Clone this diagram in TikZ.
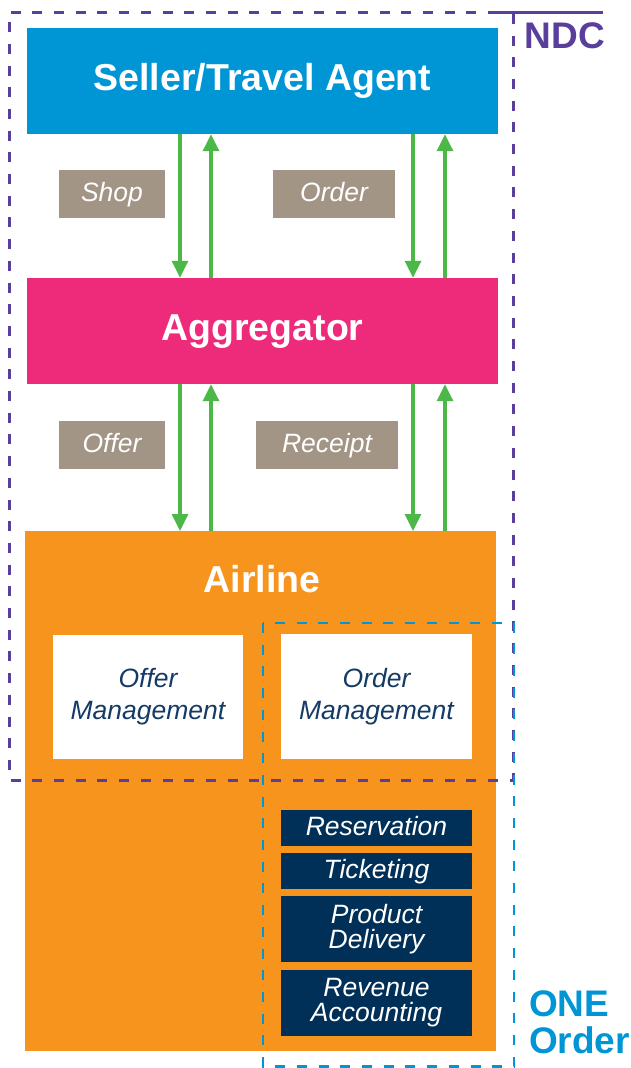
\documentclass[tikz,border=0pt]{standalone}
\usepackage{fontspec}
\setmainfont{Liberation Sans}
\usetikzlibrary{arrows.meta}

\definecolor{sellerblue}{HTML}{0096D6}
\definecolor{aggpink}{HTML}{EE2B7B}
\definecolor{airorange}{HTML}{F7941E}
\definecolor{msggrey}{HTML}{A39585}
\definecolor{deepnavy}{HTML}{003057}
\definecolor{mgmttext}{HTML}{143A66}
\definecolor{ndcpurple}{HTML}{5A3E9C}
\definecolor{orderblue}{HTML}{0095D5}
\definecolor{flowgreen}{HTML}{4CB848}

\tikzset{
  bigrow/.style={text height=27.4pt, text depth=7.9pt},
  onerow/.style={text height=19.3pt, text depth=3.6pt},
  party/.style={draw=none, inner sep=0pt, minimum width=471pt, minimum height=106pt,
    text=white, bigrow, font=\fontsize{37.5}{45}\selectfont\bfseries},
  msg/.style={fill=msggrey, inner sep=0pt, minimum height=48pt, onerow,
    text=white, font=\fontsize{26.5}{32}\selectfont\itshape},
  mgmt/.style={fill=white, inner sep=0pt, minimum width=190pt, minimum height=124pt,
    align=center, text=mgmttext, font=\fontsize{26.5}{32}\selectfont\itshape},
  proc/.style={fill=deepnavy, inner sep=0pt, minimum width=191pt,
    align=center, text=white, font=\fontsize{26.5}{25}\selectfont\itshape},
  flow/.style={draw=flowgreen, line width=3.3pt,
    -{Triangle[width=16pt,length=17pt]}, shorten >=0pt},
  ndcframe/.style={draw=ndcpurple, line width=3pt, dash pattern=on 10pt off 11.7pt},
  orderframe/.style={draw=orderblue, line width=2.5pt, dash pattern=on 10pt off 11.7pt},
  tag/.style={inner sep=0pt, font=\fontsize{37}{37}\selectfont\bfseries}
}

\begin{document}
\begin{tikzpicture}[x=1pt,y=-1pt]
\useasboundingbox (0,0) rectangle (631,1068);

% parties
\node[party, fill=sellerblue] (seller) at (262.5,81) {Seller/Travel Agent};
\node[party, fill=aggpink] (agg) at (262.5,331) {Aggregator};
\node[fill=airorange, inner sep=0pt, minimum width=471pt, minimum height=520pt, anchor=north]
  (airline) at (260.5,531) {};
\node[text=white, inner sep=0pt, bigrow, font=\fontsize{37.5}{45}\selectfont\bfseries]
  (airtitle) at (262,583) {Airline};

% message labels
\node[msg, minimum width=106pt] (shop) at (112,194) {Shop};
\node[msg, minimum width=122pt] (order) at (334,194) {Order};
\node[msg, minimum width=106pt] (offer) at (112,445) {Offer};
\node[msg, minimum width=142pt] (receipt) at (327,445) {Receipt};

% message flows
\draw[flow] ([xshift=-82.5pt]seller.south) -- ([xshift=-82.5pt]agg.north);
\draw[flow] ([xshift=-51.5pt]agg.north) -- ([xshift=-51.5pt]seller.south);
\draw[flow] ([xshift=150.5pt]seller.south) -- ([xshift=150.5pt]agg.north);
\draw[flow] ([xshift=182.5pt]agg.north) -- ([xshift=182.5pt]seller.south);

\draw[flow] ([xshift=-82.5pt]agg.south) -- ([xshift=-82.5pt]agg.south |- airline.north);
\draw[flow] ([xshift=-51.5pt]agg.south |- airline.north) -- ([xshift=-51.5pt]agg.south);
\draw[flow] ([xshift=150.5pt]agg.south) -- ([xshift=150.5pt]agg.south |- airline.north);
\draw[flow] ([xshift=182.5pt]agg.south |- airline.north) -- ([xshift=182.5pt]agg.south);

% airline functions
\node[mgmt] (offermgmt) at (148,697) {Offer\\Management};
\node[mgmt, minimum width=191pt, minimum height=125pt] (ordermgmt) at (376.5,696.5) {Order\\Management};

\node[proc, onerow, minimum height=36pt] (resv) at (376.5,828) {Reservation};
\node[proc, onerow, minimum height=36pt] (tkt) at (376.5,871) {Ticketing};
\node[proc, minimum height=66pt] (deliv) at (376.5,929) {Product\\Delivery};
\node[proc, minimum height=66pt] (revacc) at (376.5,1003) {Revenue\\Accounting};

% scope frames
\draw[ndcframe] (498,12) -- (9,12) -- (9,780) -- (513,780) -- (513,12);
\draw[draw=ndcpurple, line width=3pt] (498,12) -- (603,12);
\draw[orderframe] (263,623) rectangle (514,1066.5);

% frame tags
\node[tag, text=ndcpurple] (ndc) at (565,36) {NDC};
\node[tag, text=orderblue, align=left, anchor=north west] (oneorder) at (529,990) {ONE\\Order};
\end{tikzpicture}
\end{document}
